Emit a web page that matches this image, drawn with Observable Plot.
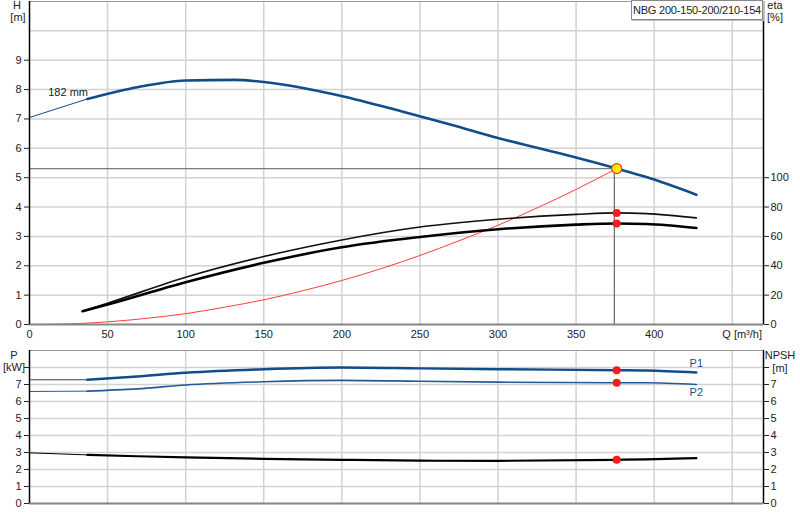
<!DOCTYPE html>
<html>
<head>
<meta charset="utf-8">
<script src="https://cdn.jsdelivr.net/npm/d3@7"></script>
<script src="https://cdn.jsdelivr.net/npm/@observablehq/plot@0.6"></script>
<style>
  html, body { margin: 0; padding: 0; background: #fff; overflow: hidden; }
  #wrap { position: relative; width: 800px; height: 520px; font-family: "Liberation Sans", Arial, sans-serif; color: #222; }
  .pane { position: absolute; left: 0; }
  .lab { position: absolute; width: 40px; text-align: center; font-size: 11px; line-height: 12px; color: #222; }
  #title { position: absolute; left: 631px; top: 0px; width: 130px; height: 18px; border: 1px solid #888; background: #fff;
           font-size: 11px; line-height: 18px; text-align: center; color: #222; box-shadow: 1px 1px 0 #bbb;
           white-space: nowrap; overflow: visible; letter-spacing: -0.2px; }
</style>
</head>
<body>
<div id="wrap">
  <div id="top" class="pane" style="top:0px"></div>
  <div id="bot" class="pane" style="top:348px"></div>
  <div id="title">NBG 200-150-200/210-154</div>
  <div class="lab" style="left:-3px; top:-1px">H</div>
  <div class="lab" style="left:-2px; top:11px">[m]</div>
  <div class="lab" style="left:755px; top:-1px">eta</div>
  <div class="lab" style="left:755px; top:11px">[%]</div>
  <div class="lab" style="left:-6px; top:349px">P</div>
  <div class="lab" style="left:-6px; top:361px">[kW]</div>
  <div class="lab" style="left:760px; top:349px">NPSH</div>
  <div class="lab" style="left:760px; top:362px">[m]</div>
</div>
<script>
// ---------- data ----------
const xTicks = [0, 50, 100, 150, 200, 250, 300, 350, 400];
const xGrid = [50, 100, 150, 200, 250, 300, 350, 400, 450];
const hTicks = [0, 1, 2, 3, 4, 5, 6, 7, 8, 9];
const hGrid = [1, 2, 3, 4, 5, 6, 7, 8, 9, 10];
const etaTicks = [0, 20, 40, 60, 80, 100];
const pTicks = [0, 1, 2, 3, 4, 5, 6, 7, 8];
const pGrid = [1, 2, 3, 4, 5, 6, 7, 8];

// Head curve (182 mm impeller)
const hQ = [0, 37, 69, 100, 131, 167, 199, 238, 270, 300, 340, 376, 395, 427];
const hH = [7.05, 7.68, 8.08, 8.31, 8.33, 8.13, 7.79, 7.26, 6.8, 6.35, 5.82, 5.31, 5.02, 4.42];

// Efficiency curves [%]
const etaQ = [34, 50, 100, 150, 200, 250, 300, 350, 376, 395, 427];
const eta1 = [9.2, 14.5, 32.2, 46.3, 57.6, 66.4, 71.7, 75.0, 76.0, 75.5, 72.6];
const eta2 = [9.0, 13.6, 28.8, 42.0, 52.6, 59.6, 64.9, 68.0, 68.8, 68.5, 65.7];

// System curve
const sysQ = [0, 25, 50, 75, 100, 125, 150, 175, 200, 225, 250, 275, 300, 325, 350, 376];
const sysH = [0, 0.02, 0.09, 0.21, 0.37, 0.59, 0.84, 1.15, 1.5, 1.9, 2.35, 2.85, 3.38, 3.97, 4.6, 5.31];

// Power and NPSH
const pQ = [0, 37, 69, 100, 150, 200, 250, 300, 376, 395, 427];
const p1 = [7.28, 7.28, 7.47, 7.69, 7.9, 8.0, 7.95, 7.9, 7.84, 7.82, 7.71];
const p2 = [6.59, 6.61, 6.74, 6.97, 7.16, 7.24, 7.19, 7.14, 7.1, 7.1, 7.0];
const npsh = [2.98, 2.86, 2.78, 2.71, 2.63, 2.57, 2.52, 2.51, 2.57, 2.6, 2.67];

// Duty point
const dutyQ = 376;
const dutyH = 5.31;
const dutyEta1 = 76.0;
const dutyEta2 = 68.8;
const dutyP1 = 7.84;
const dutyP2 = 7.1;
const dutyNpsh = 2.57;

// annotations
const curveLabel = [{q: 12, h: 7.9, text: "182 mm"}];
const pLabels = [{q: 427, v: 8.25, text: "P1"}, {q: 427, v: 6.55, text: "P2"}];
const qLabel = [{q: 450, v: 0, text: "Q [m³/h]"}];

// ---------- tables ----------
const H = hQ.map((q, i) => ({q, v: hH[i]}));
const E1 = etaQ.map((q, i) => ({q, v: eta1[i]}));
const E2 = etaQ.map((q, i) => ({q, v: eta2[i]}));
const SYS = sysQ.map((q, i) => ({q, v: sysH[i]}));
const P1 = pQ.map((q, i) => ({q, v: p1[i]}));
const P2 = pQ.map((q, i) => ({q, v: p2[i]}));
const NP = pQ.map((q, i) => ({q, v: npsh[i]}));
const thin = a => a.slice(0, 2);
const thick = a => a.slice(1);

const BLUE = "#114c8c";
const BLUE2 = "#24599a";
const GRID = "#d2d2d2";
const font = "'Liberation Sans', Arial, sans-serif";
const curve = "monotone-x";

const topPlot = Plot.plot({
  width: 800, height: 348,
  marginLeft: 29, marginRight: 37, marginTop: 1, marginBottom: 24,
  x: {domain: [0, 470], axis: null},
  y: {domain: [0, 11], axis: null},
  style: {fontFamily: font, fontSize: "11px", color: "#222", background: "transparent"},
  marks: [
    Plot.gridX(xGrid, {stroke: GRID, strokeOpacity: 1, strokeWidth: 1.5}),
    Plot.gridY(hGrid, {stroke: GRID, strokeOpacity: 1, strokeWidth: 1.5}),
    Plot.frame({stroke: "#999"}),
    // system curve
    Plot.line(SYS, {x: "q", y: "v", stroke: "#ff3b3b", strokeWidth: 1, curve}),
    // duty lines
    Plot.ruleY([dutyH], {x1: 0, x2: dutyQ - 1.5, stroke: "#7a7a7a", strokeWidth: 1.2}),
    Plot.ruleX([dutyQ - 1.5], {y1: 0, y2: dutyH, stroke: "#6a6a6a", strokeWidth: 1.2}),
    // efficiency
    Plot.line(E1, {x: "q", y: d => d.v / 20, stroke: "#111", strokeWidth: 1.6, curve}),
    Plot.line(E2, {x: "q", y: d => d.v / 20, stroke: "#000", strokeWidth: 2.6, curve}),
    // head
    Plot.line(thin(H), {x: "q", y: "v", stroke: BLUE, strokeWidth: 1}),
    Plot.line(thick(H), {x: "q", y: "v", stroke: BLUE, strokeWidth: 2.6, curve}),
    Plot.text(curveLabel, {x: "q", y: "h", text: "text", textAnchor: "start", fontSize: 11, fill: "#222"}),
    // axes
    Plot.ruleY([0], {stroke: "#858585", strokeWidth: 2}),
    Plot.ruleX([0], {stroke: "#000", strokeWidth: 1.5}),
    Plot.ruleX([470], {stroke: "#000", strokeWidth: 1.5}),
    Plot.axisX({ticks: xTicks, tickSize: 0, tickPadding: 6, label: null, fontSize: 11}),
    Plot.text(qLabel, {x: "q", y: "v", text: "text", textAnchor: "start", dx: -10, dy: 10, fontSize: 11, fill: "#222"}),
    Plot.axisY({ticks: hTicks, anchor: "left", tickSize: 5, tickPadding: 3, label: null, fontSize: 11}),
    Plot.axisY({ticks: etaTicks.map(e => e / 20), anchor: "right", tickSize: 5, tickPadding: 2,
                tickFormat: d => Math.round(d * 20), label: null, fontSize: 11}),
    // duty point markers
    Plot.dot([{q: dutyQ, v: dutyEta1 / 20}, {q: dutyQ, v: dutyEta2 / 20}], {x: "q", y: "v", r: 4, fill: "#ff1a1a"}),
    Plot.dot([{q: dutyQ, v: dutyH}], {x: "q", y: "v", r: 5, fill: "#ffee00", stroke: "#ff3030", strokeWidth: 1.2})
  ]
});
document.getElementById("top").append(topPlot);

const botPlot = Plot.plot({
  width: 800, height: 172,
  marginLeft: 29, marginRight: 37, marginTop: 2, marginBottom: 17,
  x: {domain: [0, 470], axis: null},
  y: {domain: [0, 9], axis: null},
  style: {fontFamily: font, fontSize: "11px", color: "#222", background: "transparent"},
  marks: [
    Plot.gridX(xGrid, {stroke: GRID, strokeOpacity: 1, strokeWidth: 1.5}),
    Plot.gridY(pGrid, {stroke: GRID, strokeOpacity: 1, strokeWidth: 1.5}),
    Plot.frame({stroke: "#999"}),
    Plot.line(thin(P1), {x: "q", y: "v", stroke: BLUE, strokeWidth: 1}),
    Plot.line(thick(P1), {x: "q", y: "v", stroke: BLUE, strokeWidth: 2.4, curve}),
    Plot.line(thin(P2), {x: "q", y: "v", stroke: BLUE2, strokeWidth: 1}),
    Plot.line(thick(P2), {x: "q", y: "v", stroke: BLUE2, strokeWidth: 1.6, curve}),
    Plot.line(thin(NP), {x: "q", y: "v", stroke: "#000", strokeWidth: 1}),
    Plot.line(thick(NP), {x: "q", y: "v", stroke: "#000", strokeWidth: 2.2, curve}),
    Plot.text(pLabels, {x: "q", y: "v", text: "text", textAnchor: "middle", fontSize: 11, fill: "#1c4f8c"}),
    Plot.ruleY([0], {stroke: "#858585", strokeWidth: 2}),
    Plot.ruleX([0], {stroke: "#000", strokeWidth: 1.5}),
    Plot.ruleX([470], {stroke: "#000", strokeWidth: 1.5}),
    Plot.axisY({ticks: pTicks, anchor: "left", tickSize: 5, tickPadding: 3, label: null, fontSize: 11,
                tickFormat: d => d === 8 ? "" : d}),
    Plot.axisY({ticks: pTicks, anchor: "right", tickSize: 5, tickPadding: 2, label: null, fontSize: 11,
                tickFormat: d => d === 8 ? "" : d}),
    Plot.dot([{q: dutyQ, v: dutyP1}, {q: dutyQ, v: dutyP2}, {q: dutyQ, v: dutyNpsh}], {x: "q", y: "v", r: 4, fill: "#ff1a1a"})
  ]
});
document.getElementById("bot").append(botPlot);
</script>
</body>
</html>
